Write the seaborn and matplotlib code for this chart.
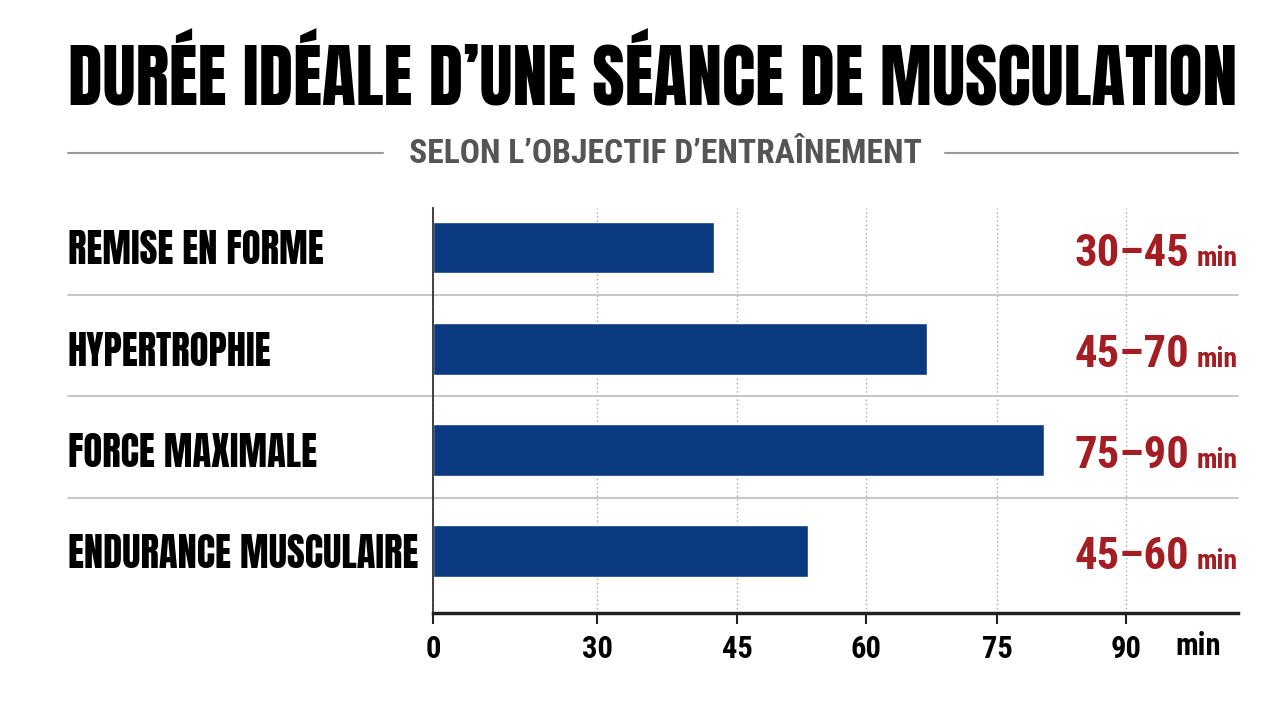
import numpy as np
import pandas as pd
import matplotlib
matplotlib.use("Agg")
import matplotlib.pyplot as plt
import matplotlib.transforms as mtrans
from matplotlib.lines import Line2D
from matplotlib import font_manager
import seaborn as sns

# ---------------- data ----------------
categories = ["REMISE EN FORME", "HYPERTROPHIE", "FORCE MAXIMALE", "ENDURANCE MUSCULAIRE"]
durations = [42.5, 67.0, 80.5, 53.3]
range_labels = ["30–45", "45–70", "75–90", "45–60"]
tick_values = [0, 30, 45, 60, 75, 90]
tick_labels = ["0", "30", "45", "60", "75", "90"]
title = "DURÉE IDÉALE D’UNE SÉANCE DE MUSCULATION"
subtitle = "SELON L’OBJECTIF D’ENTRAÎNEMENT"

# ---------------- fonts ----------------
sns.set_theme(style="white")
names = {f.name for f in font_manager.fontManager.ttflist}
def pick(prefs):
    for p in prefs:
        if p in names:
            return p
    return "DejaVu Sans"
HEAVY = pick(["Anton", "League Gothic", "Bebas Neue", "Oswald", "Archivo Narrow"])
COND = pick(["Roboto Condensed", "Fira Sans Condensed", "Barlow Condensed",
             "Archivo Narrow", "Oswald", "Liberation Sans Narrow"])
plt.rcParams["font.family"] = [COND, "DejaVu Sans"]

BAR = "#0B3A80"
RED = "#A31D22"
W, H = 1280, 702

fig = plt.figure(figsize=(12.8, 7.02), dpi=100)
fig.patch.set_facecolor("white")
ax = fig.add_axes([433 / W, 1 - 613 / H, (1238 - 433) / W, (613 - 208) / H])

df = pd.DataFrame({"cat": categories, "dur": durations})
sns.barplot(data=df, x="dur", y="cat", orient="h", color=BAR, saturation=1,
            width=0.51, ax=ax)

# non-uniform x scale (the reference spreads 0-30 wider than the 15-min steps)
scale_x = [0, 30, 45, 60, 75, 90, 105]
scale_p = [0, 164, 304, 433, 564, 693, 822]
fwd = lambda x: np.interp(x, scale_x, scale_p)
inv = lambda p: np.interp(p, scale_p, scale_x)
ax.set_xscale("function", functions=(fwd, inv))
ax.set_xlim(0, 103)
ax.set_ylim(3.61, -0.39)

ax.set_xticks(tick_values)
ax.set_xticklabels(tick_labels)
ax.set_xlabel("")
ax.set_ylabel("")
ax.set_axisbelow(True)
ax.grid(axis="x", linestyle=(0, (1, 2)), color="#a8a8a8", lw=1.0)
ax.grid(axis="y", visible=False)

ax.tick_params(axis="x", bottom=True, direction="out", length=8, width=1.5,
               color="#222222", pad=7, labelsize=22, labelcolor="black")
for lbl in ax.get_xticklabels():
    lbl.set_fontweight("bold")
    lbl.set_family([COND, "DejaVu Sans"])

ax.tick_params(axis="y", left=False, length=0, pad=(433 - 68) * 72 / 100,
               labelcolor="black")
for lbl in ax.get_yticklabels():
    lbl.set_horizontalalignment("left")
    lbl.set_family([HEAVY, "DejaVu Sans"])
    lbl.set_fontsize(30)

for s in ["top", "right"]:
    ax.spines[s].set_visible(False)
ax.spines["left"].set_color("#333333")
ax.spines["left"].set_linewidth(1.3)
ax.spines["bottom"].set_color("#222222")
ax.spines["bottom"].set_linewidth(2.5)

trans = mtrans.blended_transform_factory(fig.transFigure, ax.transData)
for i in range(len(categories) - 1):
    ax.plot([68 / W, 1238 / W], [i + 0.47, i + 0.47], transform=trans,
            color="#bdbdbd", lw=1.2, clip_on=False, zorder=1)

num_texts, min_texts = [], []
for i, lab in enumerate(range_labels):
    num_texts.append(ax.text(1189 / W, i + 0.18, lab, transform=trans, ha="right",
                             va="baseline", color=RED, fontsize=34, fontweight="bold",
                             family=[COND, "DejaVu Sans"]))
    min_texts.append(ax.text(1238 / W, i + 0.18, "min", transform=trans, ha="right",
                             va="baseline", color=RED, fontsize=20, fontweight="bold",
                             family=[COND, "DejaVu Sans"]))

# axis unit
unit = fig.text(1198 / W, 1 - 655 / H, "min", ha="center", va="baseline",
                fontsize=22, fontweight="bold", color="black",
                family=[COND, "DejaVu Sans"])

# title & subtitle
t = fig.text(653 / W, 1 - 106 / H, title, ha="center", va="baseline",
             fontsize=50, color="black", family=[HEAVY, "DejaVu Sans"])
st = fig.text(665 / W, 1 - 163 / H, subtitle, ha="center", va="baseline",
              fontsize=20, fontweight="bold", color="#555555",
              family=[COND, "DejaVu Sans"])
fig.add_artist(Line2D([68 / W, 383 / W], [1 - 153 / H] * 2, color="#9a9a9a", lw=1.5))
fig.add_artist(Line2D([945 / W, 1238 / W], [1 - 153 / H] * 2, color="#9a9a9a", lw=1.5))

# fit text widths to the reference
fig.canvas.draw()
r = fig.canvas.get_renderer()
def scale_for(txt, target):
    return txt.get_fontsize() * target / txt.get_window_extent(r).width
def fit(txt, target):
    txt.set_fontsize(scale_for(txt, target))
fit(t, 1170)
fit(st, 515)
fs_num = scale_for(num_texts[0], 115)
fs_min = scale_for(min_texts[0], 41)
for a, b in zip(num_texts, min_texts):
    a.set_fontsize(fs_num)
    b.set_fontsize(fs_min)
ylbls = ax.get_yticklabels()
fs = scale_for(ylbls[-1], 350)
for lbl in ylbls:
    lbl.set_fontsize(fs)

fig.savefig("out.png", dpi=100, facecolor="white")
